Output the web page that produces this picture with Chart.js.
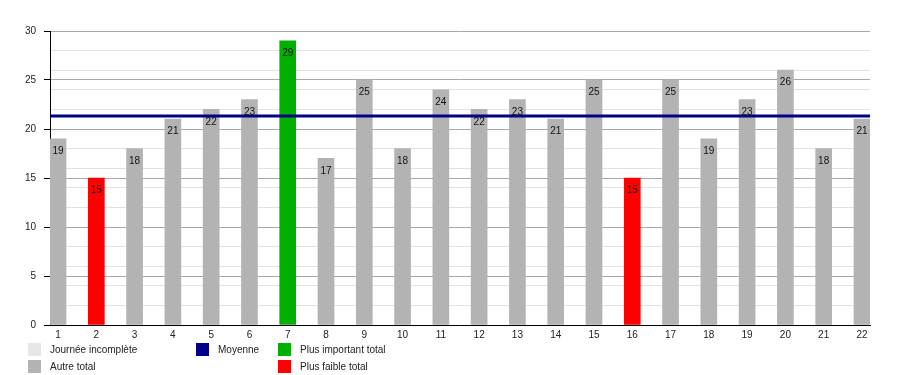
<!DOCTYPE html>
<html>
<head>
<meta charset="utf-8">
<script src="https://cdn.jsdelivr.net/npm/chart.js@4.4.1/dist/chart.umd.min.js"></script>
<style>
  html, body { margin: 0; padding: 0; background: #fff; }
  #wrap { position: relative; width: 900px; height: 375px; }
  #legend { position: absolute; left: 0; top: 0; width: 900px; height: 375px; pointer-events: none;
            font: 10px "Liberation Sans", Arial, sans-serif; color: #222; }
  .item { position: absolute; height: 13px; line-height: 13px; white-space: nowrap; }
  .sw { position: absolute; left: 0; top: 0; width: 13px; height: 13px; }
  .lbl { position: absolute; top: 0; left: 22px; }
</style>
</head>
<body>
<div id="wrap">
  <canvas id="chart" width="900" height="375"></canvas>
  <div id="legend"></div>
</div>
<script>
  // days of the month and their totals
  const categories = ["1", "2", "3", "4", "5", "6", "7", "8", "9", "10", "11",
                      "12", "13", "14", "15", "16", "17", "18", "19", "20", "21", "22"];
  const totals = [19, 15, 18, 21, 22, 23, 29, 17, 25, 18, 24,
                  22, 23, 21, 25, 15, 25, 19, 23, 26, 18, 21];
  // kind of bar: "autre", "max", "min"
  const kinds = ["autre", "min", "autre", "autre", "autre", "autre", "max", "autre", "autre", "autre", "autre",
                 "autre", "autre", "autre", "autre", "min", "autre", "autre", "autre", "autre", "autre", "autre"];
  const moyenne = 21.32;
  const yTicksMajor = [0, 5, 10, 15, 20, 25, 30];

  const COLORS = {
    incomplete: "#e6e6e6",
    autre: "#b3b3b3",
    max: "#00b000",
    min: "#ff0000",
    moyenne: "#000088",
  };

  const legendItems = [
    { text: "Journée incomplète", color: COLORS.incomplete, left: 28, top: 343 },
    { text: "Autre total", color: COLORS.autre, left: 28, top: 360 },
    { text: "Moyenne", color: COLORS.moyenne, left: 196, top: 343 },
    { text: "Plus important total", color: COLORS.max, left: 278, top: 343 },
    { text: "Plus faible total", color: COLORS.min, left: 278, top: 360 },
  ];

  const legendEl = document.getElementById("legend");
  legendItems.forEach(function (it) {
    const d = document.createElement("div");
    d.className = "item";
    d.style.left = it.left + "px";
    d.style.top = it.top + "px";
    d.innerHTML = '<span class="sw" style="background:' + it.color + '"></span>' +
                  '<span class="lbl">' + it.text + "</span>";
    legendEl.appendChild(d);
  });

  const FAMILY = "'Liberation Sans', Arial, sans-serif";

  // average line across the whole plot area
  const moyennePlugin = {
    id: "moyenne",
    afterDatasetsDraw(chart) {
      const y = chart.scales.y.getPixelForValue(moyenne);
      const a = chart.chartArea;
      const ctx = chart.ctx;
      ctx.save();
      ctx.strokeStyle = COLORS.moyenne;
      ctx.lineWidth = 3;
      ctx.beginPath();
      ctx.moveTo(a.left, y);
      ctx.lineTo(a.right, y);
      ctx.stroke();
      ctx.restore();
    },
  };

  // value labels inside the top of each bar
  const valuePlugin = {
    id: "values",
    afterDraw(chart) {
      const meta = chart.getDatasetMeta(0);
      const ctx = chart.ctx;
      ctx.save();
      ctx.font = "10px " + FAMILY;
      ctx.fillStyle = "#111";
      ctx.textAlign = "center";
      ctx.textBaseline = "middle";
      meta.data.forEach(function (bar, i) {
        ctx.fillText(String(totals[i]), bar.x, bar.y + 12.5);
      });
      ctx.restore();
    },
  };

  new Chart(document.getElementById("chart"), {
    type: "bar",
    data: {
      datasets: [{
        data: totals.map(function (v, i) { return { x: i + 1, y: v }; }),
        backgroundColor: kinds.map(function (k) { return COLORS[k]; }),
        borderWidth: 0,
        barThickness: 16,
      }],
    },
    options: {
      responsive: false,
      animation: false,
      events: [],
      layout: { padding: { left: 0, right: 30, top: 31, bottom: 0 } },
      plugins: { legend: { display: false }, tooltip: { enabled: false } },
      scales: {
        x: {
          type: "linear",
          offset: false,
          min: 0.79,
          max: 22.21,
          grid: { display: false, drawTicks: false },
          border: { color: "#000", width: 1 },
          ticks: {
            stepSize: 1,
            includeBounds: false,
            autoSkip: false,
            maxRotation: 0,
            padding: 4,
            color: "#222",
            font: { family: FAMILY, size: 10 },
            callback: function (v) { return categories[v - 1]; },
          },
          afterFit: function (s) { s.height = 50; },
        },
        y: {
          position: "left",
          min: 0,
          max: 30,
          afterBuildTicks: function (s) { s.ticks = yTicksMajor.map(function (v) { return { value: v }; }); },
          grid: { color: "#a8a8a8", tickColor: "#000", tickLength: 6 },
          border: { color: "#000", width: 1 },
          ticks: { color: "#222", font: { family: FAMILY, size: 10 }, padding: 8 },
          afterFit: function (s) { s.width = 50; },
        },
        y2: {
          position: "left",
          min: 0,
          max: 30,
          ticks: { display: false, stepSize: 2 },
          grid: {
            color: function (c) { return c.tick && c.tick.value % 10 === 0 ? "rgba(0,0,0,0)" : "#e2e2e2"; },
            tickColor: function (c) { return c.tick && c.tick.value % 10 === 0 ? "rgba(0,0,0,0)" : "#000"; },
            tickLength: 3,
          },
          border: { display: false },
          afterFit: function (s) { s.width = 0; },
        },
      },
    },
    plugins: [moyennePlugin, valuePlugin],
  });
</script>
</body>
</html>
